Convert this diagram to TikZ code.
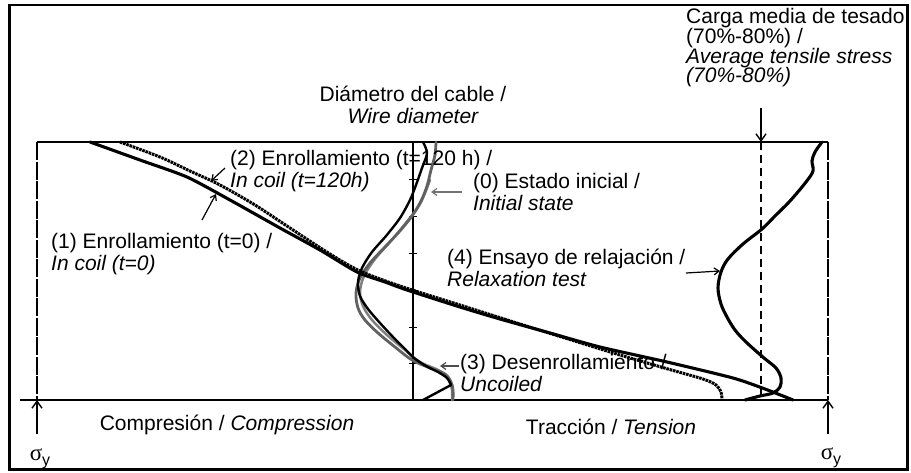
\documentclass[tikz,border=0pt]{standalone}
\usepackage{fontspec}
\setmainfont{Liberation Sans}
\newfontfamily\grk{Liberation Serif}
\usetikzlibrary{arrows.meta}
\begin{document}
\begin{tikzpicture}[x=1pt,y=-1pt,
  lbl/.style={inner sep=0pt, align=left, anchor=west, font=\fontsize{21}{21.5}\selectfont},
  clbl/.style={inner sep=0pt, align=center, font=\fontsize{21}{21.5}\selectfont},
  frameline/.style={line width=1.3pt},
  sidedash/.style={line width=1.3pt, dash pattern=on 18pt off 1.5pt},
  meandash/.style={line width=1.4pt, dash pattern=on 8pt off 5pt},
  bigarrow/.style={line width=1.4pt, -{Straight Barb[length=7pt,width=10pt,line width=1.4pt]}},
  leader/.style={line width=1.2pt, -{Straight Barb[length=5pt,width=7pt,line width=1.2pt]}},
  curveblk/.style={line width=3.1pt, line cap=round, line join=round},
  curvethin/.style={line width=2.4pt, line cap=round, line join=round},
  curvedot/.style={line width=3pt, dash pattern=on 2.6pt off 0.8pt},
  gA/.style={line width=2.8pt, draw=black!62, line cap=round, line join=round},
  gB/.style={line width=2.5pt, draw=black!50, line cap=round, line join=round},
]
\useasboundingbox (0,0) rectangle (911,472);
% outer frame
\draw[line width=2.4pt] (9.5,5) rectangle (907.5,469.5);

% plot frame
\coordinate (tl) at (37,142);
\coordinate (tr) at (828,142);
\coordinate (bl) at (37,400);
\coordinate (br) at (828,400);
\coordinate (b0) at (20,400);
\draw[frameline] (tl) -- (tr);
\draw[frameline] (b0) -- (br);
\draw[sidedash] (tl) -- (bl);
\draw[sidedash] (tr) -- (br);

% centre axis with ticks
\coordinate (at) at (413,142);
\coordinate (ab) at (413,400);
\draw[frameline] (at) -- (ab);
\foreach \t in {179,216,253,290,327,363}
  \draw[line width=1pt] (409,\t) -- (417,\t);

% average stress line
\coordinate (mt) at (761,142);
\coordinate (mb) at (761,400);
\coordinate (ms) at (761,108);
\draw[meandash] (mt) -- (mb);
\draw[bigarrow] (ms) -- (mt);

% sigma_y arrows
\coordinate (sl) at (37,434);
\coordinate (sr) at (828,434);
\draw[bigarrow] (sl) -- (bl);
\draw[bigarrow] (sr) -- (br);
\node[inner sep=0pt] (sy1) at (40,459) {{\grk\fontsize{23}{23}\selectfont σ}\raisebox{-5pt}{\fontsize{16}{16}\selectfont y}};
\node[inner sep=0pt] (sy2) at (831,458) {{\grk\fontsize{23}{23}\selectfont σ}\raisebox{-5pt}{\fontsize{16}{16}\selectfont y}};

% curves: near-axis group
\draw[gB] plot[smooth, tension=0.55] coordinates {(430,180) (420,204) (405,224) (390,242) (375,259) (364,276) (360,292) (363,306) (372,320) (387,335) (405,350) (420,362) (440,371) (449,380) (452,390) (452,400)};
\draw[gA] plot[smooth, tension=0.55] coordinates {(436,142) (435,155) (431,170) (427,186) (421,201) (412,216) (399,232) (384,248) (370,263) (360,278) (356,293) (358,308) (365,320) (378,333) (395,347) (412,360) (430,368) (445,374) (451,382) (453,390) (453,400)};
\draw[curvethin] plot[smooth, tension=0.5] coordinates {(423,142) (427,153) (422,168) (416,185) (410,200) (400,218) (386,236) (372,252) (362,268) (358,282) (360,296) (368,309) (380,323) (394,338) (406,350) (414,358) (426,366) (438,372) (447,378) (451,385)};
\draw[curvethin] (451,385) -- (423,400);

% curve (2) dotted
\draw[curvedot] plot[smooth, tension=0.5] coordinates {(120,142) (160,157) (190,171) (220,185) (255,205) (290,228) (330,254) (360,271) (400,286) (460,305) (520,324) (565,338) (620,355) (668,369) (703,379) (716,385) (721,392) (722,400)};
% curve (1) solid
\draw[curveblk] plot[smooth, tension=0.4] coordinates {(90,142) (140,160) (187,177) (230,200) (280,228) (320,250) (357,272) (385,282) (407,290) (460,307) (500,319) (550,333) (600,347) (667,362) (733,378) (765,389) (793,400)};
% curve (4) relaxation
\draw[curveblk] plot[smooth, tension=0.55] coordinates {(822,142) (815,152) (812,161) (813,171) (806,182) (790,201) (775,216) (762,229) (743,244) (728,259) (721,272) (718,288) (721,304) (727,317) (735,330) (746,342) (764,358) (776,368) (781,378) (780,387) (773,393) (760,396) (745,400)};

% labels
\node[clbl] (ldiam) at (413,105) {Diámetro del cable /\\\itshape Wire diameter};
\node[lbl, anchor=north west, font=\fontsize{21}{19.8}\selectfont] (lmean) at (686,8) {Carga media de tesado\\(70\%-80\%) /\\\itshape Average tensile stress\\\itshape (70\%-80\%)};
\node[lbl] (l2) at (230,171) {(2) Enrollamiento (t=120 h) /\\\itshape In coil (t=120h)};
\node[lbl] (l0) at (473,192) {(0) Estado inicial /\\\itshape Initial state};
\node[lbl] (l1) at (51,254) {(1) Enrollamiento (t=0) /\\\itshape In coil (t=0)};
\node[lbl] (l4) at (447,268) {(4) Ensayo de relajación /\\\itshape Relaxation test};
\node[lbl] (l3) at (460,373) {(3) Desenrollamiento /\\\itshape Uncoiled};
\node[clbl] (lcomp) at (227,425) {Compresión / \itshape Compression};
\node[clbl] (ltens) at (611,427) {Tracción / \itshape Tension};

% leaders
\coordinate (p2s) at (225,168); \coordinate (p2e) at (211,181);
\coordinate (p1s) at (202,220); \coordinate (p1e) at (216,194);
\coordinate (p0s) at (462,192); \coordinate (p0e) at (431,192);
\coordinate (p4s) at (686,273); \coordinate (p4e) at (720,271);
\coordinate (p3s) at (459,366); \coordinate (p3e) at (440,366);
\draw[leader] (p2s) -- (p2e);
\draw[leader] (p1s) -- (p1e);
\draw[leader, draw=black!55] (p0s) -- (p0e);
\draw[leader] (p4s) -- (p4e);
\draw[leader, draw=black!70] (p3s) -- (p3e);
\end{tikzpicture}
\end{document}
